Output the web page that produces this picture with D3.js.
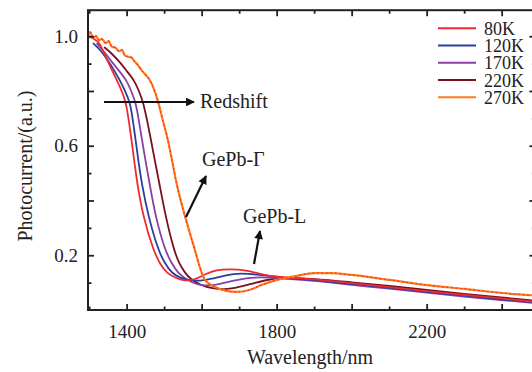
<!DOCTYPE html>
<html>
<head>
<meta charset="utf-8">
<script src="https://cdn.jsdelivr.net/npm/d3@7"></script>
<style>
  body { margin: 0; background: #fff; }
  text { font-family: "Liberation Serif", "DejaVu Serif", serif; fill: #222; }
</style>
</head>
<body>
<div id="chart"></div>
<script>
// temperature labels and colours of the curves
const temps = ["80K", "120K", "170K", "220K", "270K"];
const palette = ["#ee2a30", "#2b3f9e", "#8b3fa5", "#7c0f1e", "#ff7a1e"];

// [wavelength nm, photocurrent a.u.]
const s80 = [[1297,1.0],[1315,0.99],[1329,0.975],[1342,0.93],[1358,0.885],[1374,0.839],[1387,0.8],[1398,0.76],[1406,0.69],[1413,0.621],[1420,0.547],[1428,0.464],[1444,0.341],[1471,0.219],[1490,0.165],[1507,0.135],[1533,0.115],[1556,0.106],[1582,0.11],[1612,0.133],[1639,0.146],[1673,0.15],[1719,0.146],[1759,0.13],[1801,0.12],[1900,0.113],[2000,0.098],[2100,0.084],[2200,0.069],[2300,0.055],[2400,0.042],[2490,0.03]];
const s120 = [[1310,0.975],[1330,0.95],[1350,0.912],[1367,0.875],[1382,0.839],[1396,0.8],[1409,0.76],[1417,0.69],[1424,0.621],[1431,0.547],[1440,0.464],[1458,0.341],[1484,0.219],[1502,0.17],[1520,0.135],[1542,0.117],[1569,0.108],[1596,0.106],[1625,0.113],[1665,0.128],[1705,0.135],[1745,0.13],[1801,0.12],[1900,0.11],[2000,0.095],[2100,0.081],[2200,0.066],[2300,0.052],[2400,0.039],[2490,0.028]];
const s170 = [[1320,0.975],[1342,0.94],[1364,0.9],[1382,0.87],[1400,0.839],[1412,0.8],[1424,0.76],[1433,0.69],[1441,0.621],[1450,0.547],[1461,0.464],[1477,0.341],[1502,0.219],[1520,0.17],[1537,0.135],[1556,0.115],[1575,0.1],[1599,0.088],[1639,0.091],[1679,0.106],[1719,0.117],[1759,0.12],[1801,0.117],[1900,0.107],[2000,0.092],[2100,0.078],[2200,0.063],[2300,0.049],[2400,0.036],[2490,0.025]];
const s220 = [[1340,0.96],[1362,0.935],[1382,0.905],[1402,0.87],[1420,0.839],[1433,0.8],[1444,0.76],[1455,0.69],[1465,0.621],[1475,0.547],[1487,0.464],[1504,0.341],[1526,0.219],[1540,0.17],[1556,0.135],[1569,0.115],[1596,0.091],[1630,0.078],[1660,0.075],[1690,0.08],[1732,0.095],[1772,0.11],[1807,0.117],[1900,0.115],[2000,0.101],[2100,0.088],[2200,0.073],[2300,0.059],[2400,0.046],[2490,0.034]];
const s270 = [[1297,1.0],[1303,1.015],[1310,0.995],[1319,1.0],[1326,0.985],[1333,0.99],[1345,0.975],[1352,0.982],[1360,0.962],[1370,0.958],[1380,0.945],[1388,0.95],[1395,0.93],[1405,0.925],[1413,0.922],[1420,0.91],[1430,0.895],[1440,0.875],[1450,0.86],[1462,0.839],[1484,0.76],[1497,0.69],[1510,0.621],[1521,0.547],[1533,0.464],[1556,0.341],[1582,0.219],[1596,0.153],[1609,0.11],[1636,0.084],[1665,0.07],[1692,0.066],[1727,0.073],[1759,0.091],[1801,0.11],[1852,0.124],[1900,0.135],[1945,0.135],[2001,0.128],[2100,0.11],[2201,0.091],[2300,0.077],[2401,0.062],[2490,0.053]];
const seriesList = [s80, s120, s170, s220, s270];

const xTicksMajor = [1400, 1600, 1800, 2000, 2200, 2400];
const xTicksMinor = [1300, 1500, 1700, 1900, 2100, 2300];
const xLabels = [1400, 1800, 2200];
const yTicksMajor = [0.2, 0.4, 0.6, 0.8, 1.0];
const yTicksMinor = [0.1, 0.3, 0.5, 0.7, 0.9];
const yLabels = [0.2, 0.6, 1.0];

const W = 532, H = 372;
const mLeft = 88, mRight = 535.4, mTop = 10.2, mBottom = 310;

const svg = d3.select("#chart").append("svg")
    .attr("width", W)
    .attr("height", H);

const x = d3.scaleLinear().domain([1297, 2490]).range([mLeft, mRight]);
const y = d3.scaleLinear().domain([0, 1.095]).range([mBottom, mTop]);

// smooth curves for the low temperatures, the 270K trace is noisier
const smooth = d3.line()
    .x(d => x(d[0]))
    .y(d => y(d[1]))
    .curve(d3.curveBasis);
const rough = d3.line()
    .x(d => x(d[0]))
    .y(d => y(d[1]))
    .curve(d3.curveMonotoneX);

const plot = svg.append("g");
[3, 2, 1, 0].forEach(i => {
    plot.append("path")
        .attr("d", smooth(seriesList[i]))
        .attr("fill", "none")
        .attr("stroke", palette[i])
        .attr("stroke-width", 1.8);
});
plot.append("path")
    .attr("d", rough(s270))
    .attr("fill", "none")
    .attr("stroke", palette[4])
    .attr("stroke-width", 2.2);
plot.append("path")
    .attr("d", rough(s270))
    .attr("fill", "none")
    .attr("stroke", "#f0302a")
    .attr("stroke-width", 1.2)
    .attr("stroke-dasharray", "1.5,3");

// axes with inward ticks
let drawAxis = function(axis, tr) {
    const g = svg.append("g").attr("transform", tr).call(axis);
    g.select(".domain").remove();
    g.selectAll("line").attr("stroke", "#222").attr("stroke-width", 1.8);
    g.selectAll("text").attr("font-size", "19px").attr("fill", "#222");
    return g;
}
const fmtX = d => xLabels.includes(d) ? d : "";
const fmtY = d => yLabels.some(v => Math.abs(v - d) < 1e-9) ? d.toFixed(1) : "";

drawAxis(d3.axisBottom(x).tickValues(xTicksMajor).tickSize(-6).tickPadding(14.5).tickFormat(fmtX), `translate(0,${mBottom})`);
drawAxis(d3.axisBottom(x).tickValues(xTicksMinor).tickSize(-3.5).tickFormat(""), `translate(0,${mBottom})`);
drawAxis(d3.axisTop(x).tickValues(xTicksMajor).tickSize(-6).tickFormat(""), `translate(0,${mTop})`);
drawAxis(d3.axisTop(x).tickValues(xTicksMinor).tickSize(-3.5).tickFormat(""), `translate(0,${mTop})`);
drawAxis(d3.axisLeft(y).tickValues(yTicksMajor).tickSize(-6).tickPadding(10).tickFormat(fmtY), `translate(${mLeft},0)`);
drawAxis(d3.axisLeft(y).tickValues(yTicksMinor).tickSize(-3.5).tickFormat(""), `translate(${mLeft},0)`);
drawAxis(d3.axisRight(y).tickValues(yTicksMajor).tickSize(-6).tickFormat(""), `translate(${mRight},0)`);
drawAxis(d3.axisRight(y).tickValues(yTicksMinor).tickSize(-3.5).tickFormat(""), `translate(${mRight},0)`);

// frame
svg.append("rect")
    .attr("x", mLeft)
    .attr("y", mTop)
    .attr("width", mRight - mLeft)
    .attr("height", mBottom - mTop)
    .attr("fill", "none")
    .attr("stroke", "#222")
    .attr("stroke-width", 2);

// axis titles
svg.append("text")
    .attr("x", 310)
    .attr("y", 364)
    .attr("text-anchor", "middle")
    .attr("font-size", "20px")
    .text("Wavelength/nm");
svg.append("text")
    .attr("transform", "translate(32,166) rotate(-90)")
    .attr("text-anchor", "middle")
    .attr("font-size", "20px")
    .text("Photocurrent/(a.u.)");

// legend
const legend = svg.append("g");
temps.forEach((t, i) => {
    const ly = 28.3 + i * 17.25;
    legend.append("line")
        .attr("x1", 438).attr("x2", 476)
        .attr("y1", ly).attr("y2", ly)
        .attr("stroke", palette[i])
        .attr("stroke-width", 2);
    legend.append("text")
        .attr("x", 484)
        .attr("y", ly + 6.5)
        .attr("font-size", "18px")
        .text(t);
});

// annotations
const defs = svg.append("defs");
defs.append("marker")
    .attr("id", "head")
    .attr("viewBox", "0 0 10 10")
    .attr("refX", 9).attr("refY", 5)
    .attr("markerWidth", 6).attr("markerHeight", 4)
    .attr("markerUnits", "strokeWidth")
    .attr("orient", "auto")
    .append("path")
    .attr("d", "M0,0 L10,5 L0,10 Z")
    .attr("fill", "#111");

let arrow = function(x1, y1, x2, y2) {
    svg.append("line")
        .attr("x1", x1).attr("y1", y1)
        .attr("x2", x2).attr("y2", y2)
        .attr("stroke", "#111")
        .attr("stroke-width", 2.2)
        .attr("marker-end", "url(#head)");
}
arrow(104, 102, 194, 102);
arrow(186, 217, 206, 176);
arrow(254, 264, 260, 231);

svg.append("text").attr("x", 200).attr("y", 108).attr("font-size", "20px").text("Redshift");
svg.append("text").attr("x", 202).attr("y", 166).attr("font-size", "20px").text("GePb-Γ");
svg.append("text").attr("x", 243).attr("y", 223).attr("font-size", "20px").text("GePb-L");
</script>
</body>
</html>
